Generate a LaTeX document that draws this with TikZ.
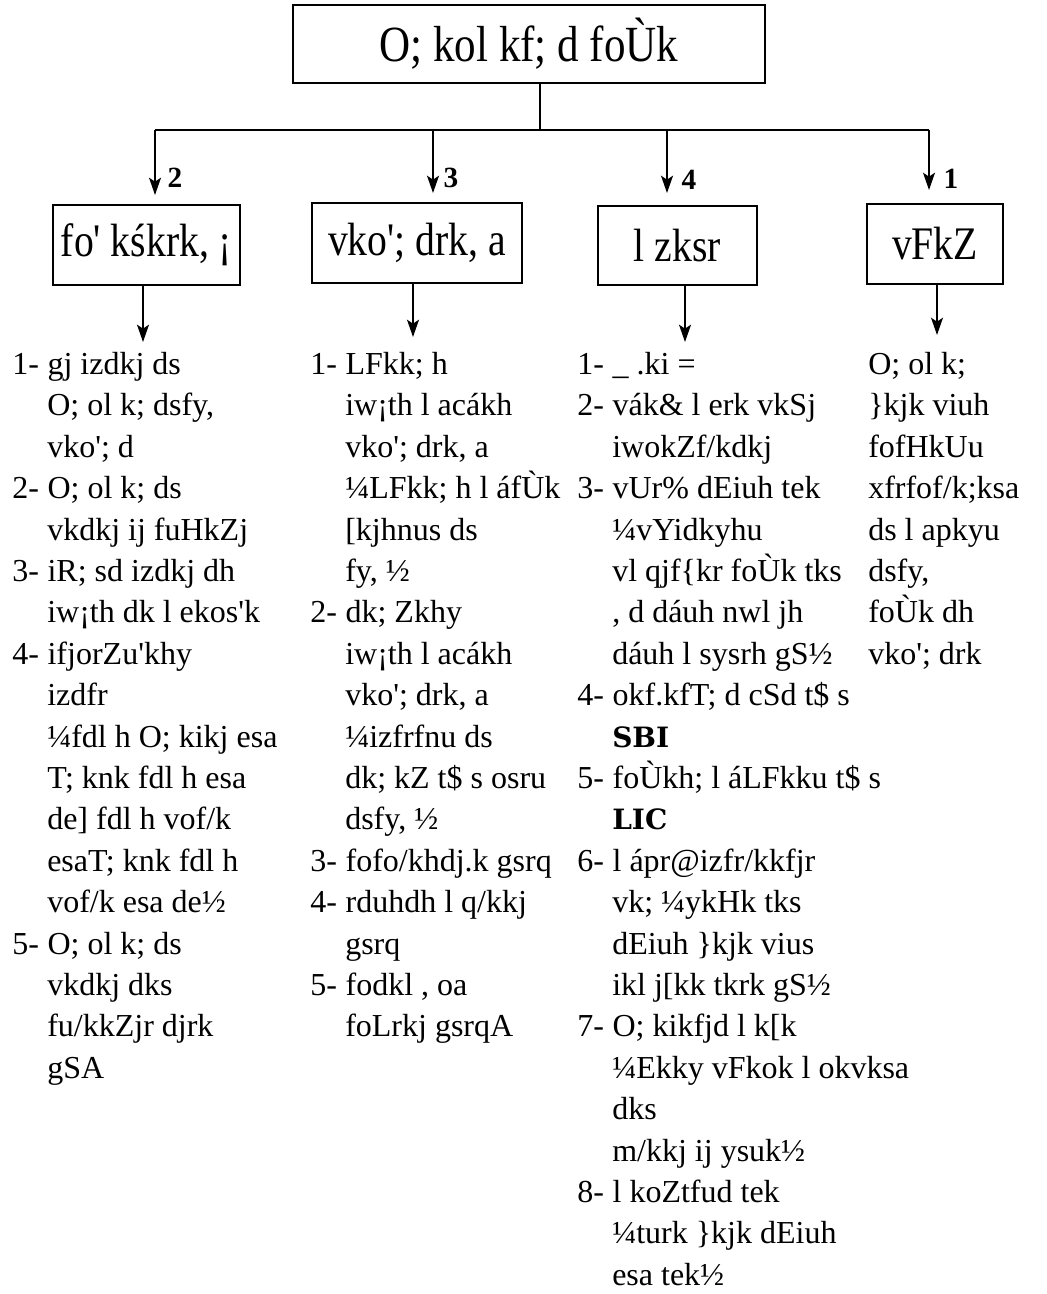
\documentclass[tikz,border=0pt]{standalone}
\usepackage{fontspec}
\setmainfont{Liberation Serif}[Ligatures=TeXOff]
\newfontfamily\titlefont[FakeStretch=0.85,Ligatures=TeXOff]{Liberation Serif}
\newfontfamily\wideserif{DejaVu Serif}
\usetikzlibrary{arrows.meta}
\newcommand{\lno}[1]{\makebox[26.5pt][l]{#1-}}
\tikzset{
  frame/.style={draw,line width=1.8pt,inner sep=0pt,font=\titlefont\fontsize{35}{40}\selectfont},
  wire/.style={line width=1.3pt},
  pointer/.style={line width=1.3pt,-{Stealth[length=13pt,width=9pt,inset=3pt]}},
  rank/.style={inner sep=0pt,font=\bfseries\fontsize{22}{26}\selectfont},
  row/.style={anchor=base west,inner sep=0pt,font=\fontsize{24}{29}\selectfont},
  abbr/.style={anchor=base west,inner sep=0pt,font=\wideserif\bfseries\fontsize{21}{25}\selectfont}
}
\begin{document}
\begin{tikzpicture}[x=0.75pt,y=0.75pt,yscale=-1,xscale=1]
\useasboundingbox (0,0) rectangle (1046,1294);
%Shape: Rectangle [title]
\node[frame,minimum width=354pt,minimum height=58.5pt,font=\titlefont\fontsize{38}{42}\selectfont] (title) at (529,44) {O; kol kf; d foÙk};
%Shape: Rectangle [features]
\node[frame,minimum width=140pt,minimum height=60pt] (feat) at (146.5,245) {fo' kśkrk, ¡};
%Shape: Rectangle [needs]
\node[frame,minimum width=157.5pt,minimum height=60pt] (need) at (417,243) {vko'; drk, a};
%Shape: Rectangle [sources]
\node[frame,minimum width=119pt,minimum height=59pt] (src) at (677.5,245.5) {l zksr};
%Shape: Rectangle [meaning]
\node[frame,minimum width=102pt,minimum height=60pt] (mean) at (935,244) {vFkZ};
%Straight Lines
\coordinate (hub) at (540,130);
\coordinate (jl) at (155,130);
\coordinate (jr) at (929,130);
\coordinate (tip1) at (155,195);
\coordinate (tip2) at (433,193);
\coordinate (tip3) at (667,193);
\coordinate (tip4) at (929,190);
\draw[wire] (title.south -| hub) -- (hub);
\draw[wire] (jl) -- (jr);
\draw[pointer] (jl) -- (tip1);
\draw[pointer] (tip2 |- hub) -- (tip2);
\draw[pointer] (tip3 |- hub) -- (tip3);
\draw[pointer] (jr) -- (tip4);
% Text Node
\node[rank] (rk2) at (175,178) {2};
\node[rank] (rk3) at (451,178) {3};
\node[rank] (rk4) at (689,180) {4};
\node[rank] (rk1) at (951,179) {1};
%Straight Lines
\coordinate (down1) at (143,342);
\coordinate (down2) at (413,337);
\coordinate (down3) at (685,342);
\coordinate (down4) at (937,335);
\draw[pointer] (feat.south -| down1) -- (down1);
\draw[pointer] (need.south -| down2) -- (down2);
\draw[pointer] (src.south -| down3) -- (down3);
\draw[pointer] (mean.south -| down4) -- (down4);
% Text Node
\node[row] (feat1) at (12,374) {\lno{1}gj izdkj ds};
\node[row] (feat2) at (47,415) {O; ol k; dsfy,};
\node[row] (feat3) at (47,457) {vko'; d};
\node[row] (feat4) at (12,498) {\lno{2}O; ol k; ds};
\node[row] (feat5) at (47,540) {vkdkj ij fuHkZj};
\node[row] (feat6) at (12,581) {\lno{3}iR; sd izdkj dh};
\node[row] (feat7) at (47,622) {iw¡th dk l ekos'k};
\node[row] (feat8) at (12,664) {\lno{4}ifjorZu'khy};
\node[row] (feat9) at (47,705) {izdfr};
\node[row] (feat10) at (47,747) {¼fdl h O; kikj esa};
\node[row] (feat11) at (47,788) {T; knk fdl h esa};
\node[row] (feat12) at (47,829) {de] fdl h vof/k};
\node[row] (feat13) at (47,871) {esaT; knk fdl h};
\node[row] (feat14) at (47,912) {vof/k esa de½};
\node[row] (feat15) at (12,954) {\lno{5}O; ol k; ds};
\node[row] (feat16) at (47,995) {vkdkj dks};
\node[row] (feat17) at (47,1036) {fu/kkZjr djrk};
\node[row] (feat18) at (47,1078) {gSA};
% Text Node
\node[row] (need1) at (310,374) {\lno{1}LFkk; h};
\node[row] (need2) at (345,415) {iw¡th l acákh};
\node[row] (need3) at (345,457) {vko'; drk, a};
\node[row] (need4) at (345,498) {¼LFkk; h l áfÙk};
\node[row] (need5) at (345,540) {[kjhnus ds};
\node[row] (need6) at (345,581) {fy, ½};
\node[row] (need7) at (310,622) {\lno{2}dk; Zkhy};
\node[row] (need8) at (345,664) {iw¡th l acákh};
\node[row] (need9) at (345,705) {vko'; drk, a};
\node[row] (need10) at (345,747) {¼izfrfnu ds};
\node[row] (need11) at (345,788) {dk; kZ t\$ s osru};
\node[row] (need12) at (345,829) {dsfy, ½};
\node[row] (need13) at (310,871) {\lno{3}fofo/khdj.k gsrq};
\node[row] (need14) at (310,912) {\lno{4}rduhdh l q/kkj};
\node[row] (need15) at (345,954) {gsrq};
\node[row] (need16) at (310,995) {\lno{5}fodkl , oa};
\node[row] (need17) at (345,1036) {foLrkj gsrqA};
% Text Node
\node[row] (src1) at (577,374) {\lno{1}\_ .ki =};
\node[row] (src2) at (577,415) {\lno{2}vák\& l erk vkSj};
\node[row] (src3) at (612,457) {iwokZf/kdkj};
\node[row] (src4) at (577,498) {\lno{3}vUr\% dEiuh tek};
\node[row] (src5) at (612,540) {¼vYidkyhu};
\node[row] (src6) at (612,581) {vl qjf\{kr foÙk tks};
\node[row] (src7) at (612,622) {, d dáuh nwl jh};
\node[row] (src8) at (612,664) {dáuh l sysrh gS½};
\node[row] (src9) at (577,705) {\lno{4}okf.kfT; d cSd t\$ s};
\node[abbr] (src10) at (612,747) {SBI};
\node[row] (src11) at (577,788) {\lno{5}foÙkh; l áLFkku t\$ s};
\node[abbr] (src12) at (612,829) {LIC};
\node[row] (src13) at (577,871) {\lno{6}l ápr@izfr/kkfjr};
\node[row] (src14) at (612,912) {vk; ¼ykHk tks};
\node[row] (src15) at (612,954) {dEiuh \}kjk vius};
\node[row] (src16) at (612,995) {ikl j[kk tkrk gS½};
\node[row] (src17) at (577,1036) {\lno{7}O; kikfjd l k[k};
\node[row] (src18) at (612,1078) {¼Ekky vFkok l okvksa};
\node[row] (src19) at (612,1119) {dks};
\node[row] (src20) at (612,1161) {m/kkj ij ysuk½};
\node[row] (src21) at (577,1202) {\lno{8}l koZtfud tek};
\node[row] (src22) at (612,1243) {¼turk \}kjk dEiuh};
\node[row] (src23) at (612,1285) {esa tek½};
% Text Node
\node[row] (mean1) at (868,374) {O; ol k;};
\node[row] (mean2) at (868,415) {\}kjk viuh};
\node[row] (mean3) at (868,457) {fofHkUu};
\node[row] (mean4) at (868,498) {xfrfof/k;ksa};
\node[row] (mean5) at (868,540) {ds l apkyu};
\node[row] (mean6) at (868,581) {dsfy,};
\node[row] (mean7) at (868,622) {foÙk dh};
\node[row] (mean8) at (868,664) {vko'; drk};

\end{tikzpicture}
\end{document}
